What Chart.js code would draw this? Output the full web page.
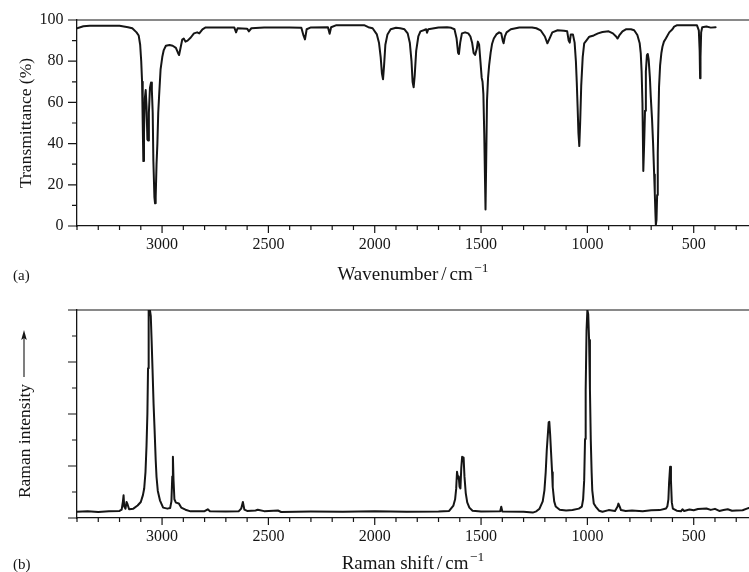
<!DOCTYPE html>
<html>
<head>
<meta charset="utf-8">
<script src="https://cdn.jsdelivr.net/npm/chart.js@4.4.1/dist/chart.umd.min.js"></script>
<style>
  html, body { margin: 0; padding: 0; background: #fff; }
  #wrap { position: relative; width: 749px; height: 572px; }
  canvas { position: absolute; left: 0; }
</style>
</head>
<body>
<div id="wrap">
  <canvas id="ir" width="749" height="290" style="top:0"></canvas>
  <canvas id="raman" width="749" height="282" style="top:290px"></canvas>
</div>
<script>
// (a) IR spectrum
const irWavenumber = [
  3400, 3370, 3340, 3200, 3160, 3140, 3120, 3110, 3103, 3098, 3094, 3091, 3088, 3085, 3081,
  3077, 3073, 3069, 3066, 3062, 3057, 3052, 3048, 3044, 3041, 3036, 3033, 3030, 3026, 3022,
  3018, 3014, 3007, 2999, 2992, 2982, 2965, 2950, 2935, 2925, 2920, 2912, 2905, 2898, 2890,
  2880, 2865, 2850, 2835, 2825, 2810, 2795, 2700, 2660, 2652, 2645, 2600, 2592, 2580, 2520,
  2400, 2345, 2335, 2328, 2320, 2300, 2220, 2212, 2205, 2180, 2050, 2030, 2010, 1990, 1980,
  1972, 1966, 1961, 1956, 1950, 1940, 1925, 1900, 1880, 1860, 1845, 1835, 1827, 1822, 1817,
  1812, 1805, 1795, 1785, 1770, 1758, 1754, 1748, 1700, 1660, 1640, 1625, 1615, 1608, 1604,
  1598, 1590, 1575, 1560, 1550, 1542, 1535, 1528, 1520, 1515, 1509, 1503, 1497, 1493, 1489,
  1485, 1481, 1479, 1476, 1472, 1467, 1462, 1455, 1448, 1440, 1428, 1415, 1405, 1398, 1394,
  1388, 1380, 1360, 1320, 1260, 1240, 1220, 1200, 1188, 1178, 1165, 1140, 1110, 1095, 1088,
  1083, 1078, 1068, 1060, 1054, 1050, 1046, 1042, 1038, 1034, 1029, 1022, 1015, 1005, 991,
  970, 950, 929, 900, 880, 865, 858, 850, 835, 819, 795, 780, 765, 754, 749,
  745, 741, 737, 733, 729, 725, 720, 716, 712, 706, 702, 696, 691, 686, 683,
  680, 678, 675, 672, 669, 666, 663, 658, 652, 647, 640, 631, 615, 600, 592,
  580, 560, 485, 476, 472, 470, 468, 465, 460, 440, 420, 397
];
const irTransmittance = [
  96.0, 97.0, 97.2, 97.2, 96.5, 96.0, 94.0, 92.5, 88, 80, 70, 50, 31.5, 45, 62,
  66, 58, 42, 41.5, 55, 67, 69.6, 66, 55, 32, 14, 11, 14, 30, 40,
  55, 63, 76, 82, 85.4, 87.5, 87.9, 87.5, 86.5, 84, 83, 87, 90.5, 91, 89.5,
  90, 91.5, 93.5, 94, 93.5, 95.5, 96.4, 96.4, 96.3, 94.0, 96.0, 95.8, 94.5, 96.0, 96.4,
  96.4, 96.2, 92.5, 90.6, 95.5, 96.4, 96.5, 93.3, 96.5, 97.5, 97.5, 96.5, 96.0, 93, 89,
  82, 74, 71.2, 78, 88, 93, 95.5, 96.2, 96, 95.5, 93.5, 89, 80, 70, 67.3,
  73, 85, 92, 94.5, 95, 95.5, 93.8, 95.5, 96.4, 96.5, 96.2, 95.5, 91, 84, 83.5,
  89, 93.5, 94, 93.5, 92, 89, 84, 83, 86, 89.5, 88, 80, 72, 70, 64,
  45, 20, 8, 30, 61, 72, 78, 84, 88.5, 91, 93, 94, 93.5, 90, 88.7,
  92, 94, 95.5, 96.4, 96.4, 96, 95, 92, 88.7, 91, 94, 95, 94.8, 94.5, 90,
  89, 93, 93, 89, 80, 70, 58, 45, 38.8, 50, 68, 82, 88.7, 90, 91.9,
  92.5, 93.5, 94.2, 94.5, 93.5, 92, 91, 92.5, 94.5, 95.5, 95.5, 95, 92.7, 88.7, 83.8,
  75, 59.6, 26.7, 40, 56, 75, 83, 83.5, 81, 72, 62.8, 52, 40, 25, 15.9,
  6, 0.5, 3, 15, 35.3, 52, 67.6, 78, 84, 87, 89.5, 91, 94, 95.5, 96.8,
  97.4, 97.5, 97.5, 95, 85, 71.7, 82, 94, 96.5, 96.8, 96.3, 96.5
];

// (b) Raman spectrum, intensity in % of the plot height
const ramanShift = [
  3400, 3350, 3300, 3250, 3200, 3190, 3184, 3181, 3178, 3172, 3167, 3162, 3155, 3135, 3115,
  3100, 3090, 3084, 3078, 3073, 3069, 3066, 3063, 3057, 3053, 3049, 3045, 3040, 3035, 3030,
  3026, 3020, 3010, 2995, 2975, 2962, 2956, 2952, 2949, 2946, 2942, 2935, 2921, 2910, 2890,
  2866, 2800, 2785, 2775, 2700, 2640, 2628, 2620, 2613, 2600, 2560, 2550, 2520, 2455, 2440,
  2300, 2150, 2000, 1850, 1700, 1650, 1630, 1622, 1617, 1613, 1608, 1605, 1601, 1597, 1593,
  1589, 1582, 1578, 1572, 1565, 1555, 1540, 1500, 1410, 1405, 1400, 1300, 1257, 1240, 1225,
  1210, 1202, 1196, 1191, 1182, 1179, 1175, 1171, 1166, 1163, 1156, 1149, 1130, 1100, 1070,
  1040, 1026, 1020, 1015, 1011, 1008, 1004, 1000, 996, 992, 988, 984, 980, 977, 970,
  961, 945, 929, 900, 870, 858, 854, 848, 842, 820, 790, 740, 700, 660, 630,
  624, 619, 616, 611, 607, 603, 598, 580, 560, 553, 545, 520, 500, 480, 460,
  440, 420, 400, 380, 360, 340, 320, 300, 270, 250, 241
];
const ramanIntensity = [
  3.0, 3.3, 2.9, 3.2, 3.4, 4.0, 8, 10.9, 5.5, 4.5, 7.7, 6.5, 4.2, 4.5, 6,
  7.7, 11, 14.2, 22, 35, 50, 72, 100, 100, 97, 85, 72, 55, 42, 28,
  19.7, 13, 8.5, 5, 4.5, 4.8, 8, 20, 29.4, 18, 9, 7.4, 7, 5, 4,
  3.2, 3.3, 4.2, 3.3, 3.1, 3.2, 4.5, 7.7, 4, 3.4, 3.6, 4.0, 3.3, 3.6, 2.9,
  3.1, 3.0, 3.2, 3.0, 3.1, 3.4, 6, 9, 14, 22.2, 19, 20, 15, 14.2, 24,
  29.4, 29, 20, 12, 7.5, 5, 3.5, 3.1, 3.2, 5.4, 3.1, 3.0, 2.6, 3.2, 4.5,
  8, 13.3, 22, 32.6, 46, 46.2, 40, 32, 22, 14.9, 8, 5.5, 4, 3.6, 3.8,
  4.5, 5.5, 9, 18.2, 38, 61.5, 90, 100, 98, 85.6, 62, 37.4, 22, 13.3, 7,
  5.5, 3.5, 3, 3.8, 3.4, 5.5, 6.9, 5.5, 3.8, 3.4, 3.6, 3.3, 3.7, 3.8, 4.6,
  5.6, 9, 16.5, 24.6, 18, 7.5, 4.5, 3.5, 3.2, 4.2, 3.4, 4.1, 3.7, 4.3, 4.5,
  4.6, 3.9, 4.4, 3.4, 3.8, 4.2, 3.5, 3.6, 3.7, 4.5, 4.8
];

const xTicks = [];
for (let v = 300; v <= 3400; v += 100) xTicks.push(v);
const irYTicks = [0, 10, 20, 30, 40, 50, 60, 70, 80, 90, 100];
const ramanYTicks = [0, 12.5, 25, 37.5, 50, 62.5, 75, 87.5, 100];

const INK = '#151515';
const SERIF = '"Liberation Serif", "DejaVu Serif", serif';

function drawPieces(ctx, pieces, cx, baseY) {
  // pieces: [text, size, raise, gapAfter]
  let total = 0;
  pieces.forEach(p => {
    ctx.font = p[1] + 'px ' + SERIF;
    total += ctx.measureText(p[0]).width + (p[3] || 0);
  });
  let x = cx - total / 2;
  ctx.textAlign = 'left';
  ctx.textBaseline = 'alphabetic';
  pieces.forEach(p => {
    ctx.font = p[1] + 'px ' + SERIF;
    ctx.fillText(p[0], x, baseY - (p[2] || 0));
    x += ctx.measureText(p[0]).width + (p[3] || 0);
  });
}

// minor/major tick marks, top frame line and the texts around each panel
const frame = {
  id: 'frame',
  afterDraw(chart, args, opts) {
    const { ctx, chartArea: a, scales: { x, y } } = chart;
    ctx.save();
    ctx.strokeStyle = INK;
    ctx.fillStyle = INK;
    ctx.lineWidth = 1.2;
    ctx.beginPath();
    ctx.moveTo(a.left, a.top);
    ctx.lineTo(a.right, a.top);
    xTicks.forEach(v => {
      const px = x.getPixelForValue(v);
      const len = v % 500 === 0 ? 7 : 4;
      ctx.moveTo(px, a.bottom);
      ctx.lineTo(px, a.bottom + len);
    });
    opts.yTicks.forEach((v, i) => {
      const py = y.getPixelForValue(v);
      const len = i % 2 === 0 ? 9 : 5;
      ctx.moveTo(a.left, py);
      ctx.lineTo(a.left - len, py);
    });
    ctx.stroke();

    const midX = (a.left + a.right) / 2;
    drawPieces(ctx, [[opts.xTitle, 19, 0, 3], ['/', 19, 0, 3], ['cm', 19, 0, 1.5], ['\u22121', 13.5, 8, 0]], midX, opts.titleBase);
    ctx.font = '15px ' + SERIF;
    ctx.textAlign = 'left';
    ctx.fillText(opts.tag, 13, opts.titleBase);

    // rotated y title
    const midY = (a.top + a.bottom) / 2;
    ctx.font = '17.5px ' + SERIF;
    const tw = ctx.measureText(opts.yTitle).width;
    const arrowLen = opts.arrow ? 47 : 0;
    const gap = opts.arrow ? 7 : 0;
    const start = midY + (tw + gap + arrowLen) / 2;
    ctx.save();
    ctx.translate(opts.yTitleX, start);
    ctx.rotate(-Math.PI / 2);
    ctx.textAlign = 'left';
    ctx.fillText(opts.yTitle, 0, 0);
    ctx.restore();
    if (opts.arrow) {
      const ax = opts.yTitleX - 5.5;
      const y0 = start - tw - gap;
      const y1 = y0 - arrowLen;
      ctx.lineWidth = 1.1;
      ctx.beginPath();
      ctx.moveTo(ax, y0);
      ctx.lineTo(ax, y1 + 8);
      ctx.stroke();
      ctx.beginPath();
      ctx.moveTo(ax, y1);
      ctx.lineTo(ax - 2.8, y1 + 10);
      ctx.lineTo(ax, y1 + 8);
      ctx.lineTo(ax + 2.8, y1 + 10);
      ctx.closePath();
      ctx.fill();
    }
    ctx.restore();
  }
};

function makeChart(id, xs, ys, yTickValues, showYLabels, xAxisHeight, frameOpts) {
  return new Chart(document.getElementById(id), {
    type: 'line',
    data: {
      datasets: [{
        data: xs.map((w, i) => ({ x: w, y: ys[i] })),
        borderColor: INK,
        borderWidth: 2,
        borderJoinStyle: 'round',
        borderCapStyle: 'round',
        pointRadius: 0,
        tension: 0,
        fill: false
      }]
    },
    options: {
      responsive: false,
      animation: false,
      layout: { padding: { top: 20, right: 0, bottom: 0, left: 0 } },
      plugins: { legend: { display: false }, tooltip: { enabled: false }, frame: frameOpts },
      scales: {
        x: {
          type: 'linear',
          reverse: true,
          min: 240,
          max: 3400,
          grid: { display: false, tickLength: 7 },
          border: { color: INK, width: 1.3 },
          afterBuildTicks: s => { s.ticks = xTicks.map(v => ({ value: v })); },
          afterFit: s => { s.height = xAxisHeight; },
          ticks: {
            autoSkip: false,
            maxRotation: 0,
            padding: 2,
            color: INK,
            font: { family: SERIF, size: 16 },
            callback: v => (v % 500 === 0 ? String(v) : '')
          }
        },
        y: {
          min: 0,
          max: 100,
          grid: { display: false, tickLength: 9 },
          border: { color: INK, width: 1.3 },
          afterBuildTicks: s => { s.ticks = yTickValues.map(v => ({ value: v })); },
          afterFit: s => { s.width = 77; },
          ticks: {
            display: showYLabels,
            padding: 4.5,
            color: INK,
            font: { family: SERIF, size: 16 },
            callback: v => (v % 20 === 0 ? String(v) : '')
          }
        }
      }
    },
    plugins: [frame]
  });
}

makeChart('ir', irWavenumber, irTransmittance, irYTicks, true, 64, {
  yTicks: irYTicks, xTitle: 'Wavenumber', tag: '(a)', titleBase: 280,
  yTitle: 'Transmittance (%)', yTitleX: 30.5, arrow: false
});
makeChart('raman', ramanShift, ramanIntensity, ramanYTicks, false, 54, {
  yTicks: ramanYTicks, xTitle: 'Raman shift', tag: '(b)', titleBase: 279,
  yTitle: 'Raman intensity', yTitleX: 29.5, arrow: true
});
</script>
</body>
</html>
